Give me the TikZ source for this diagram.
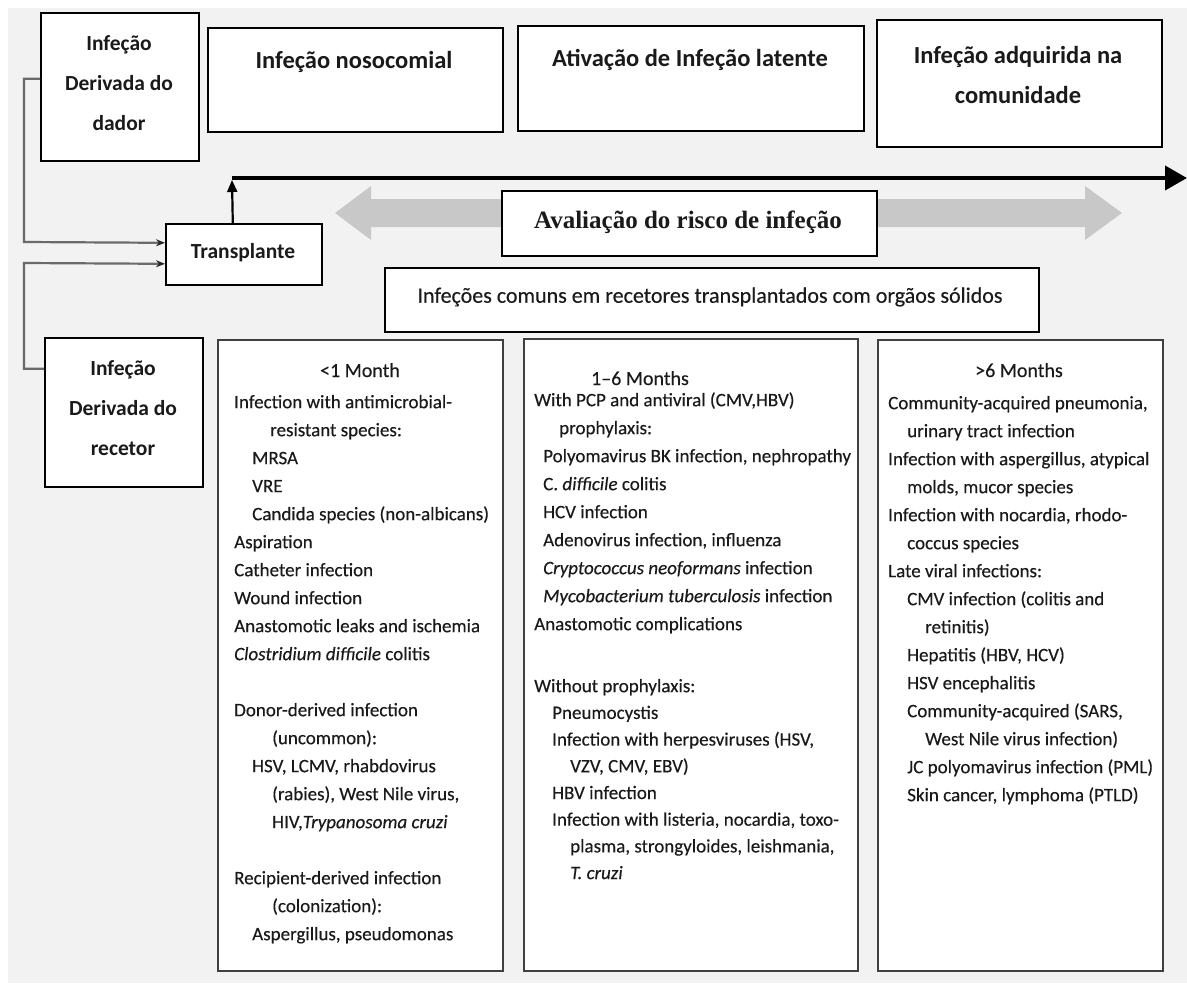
\documentclass[tikz,border=0pt]{standalone}
\usepackage{fontspec}
\setmainfont{Carlito}
\newfontfamily\serifb{Liberation Serif}
\newfontfamily\medfont{Carlito}[FakeBold=0.3]
\usetikzlibrary{arrows.meta}
\definecolor{bg}{HTML}{F2F2F2}
\definecolor{agray}{HTML}{C8C8C8}
\definecolor{lgray}{HTML}{6A6A6A}
\definecolor{txt}{HTML}{1A1A1A}
\definecolor{mborder}{HTML}{404040}
\begin{document}
\begin{tikzpicture}[x=1pt,y=-1pt,
  box/.style={draw=black, line width=1.6pt, fill=white, inner sep=0pt, anchor=north west},
  mbox/.style={draw=mborder, line width=1.5pt, fill=white, inner sep=0pt, anchor=north west},
  hdr/.style={font=\fontsize{24.5}{40}\selectfont\bfseries, text=txt, align=center, inner sep=0pt},
  side/.style={font=\fontsize{21.5}{40}\selectfont\bfseries, text=txt, align=center, inner sep=0pt},
  mhead/.style={font=\fontsize{20}{28}\selectfont\medfont, text=txt, inner sep=0pt, anchor=base},
  body/.style={font=\fontsize{19}{28}\selectfont\medfont, text=txt, align=left, inner sep=0pt, anchor=north west},
  bodyb/.style={font=\fontsize{19}{26.7}\selectfont\medfont, text=txt, align=left, inner sep=0pt, anchor=north west},
  conn/.style={draw=lgray, line width=2.2pt, -{Stealth[length=9pt,width=7pt,color=black!85]}},
]
\useasboundingbox (0,0) rectangle (1187,985);
\fill[white] (0,0) rectangle (1187,985);
\fill[bg] (8,8) rectangle (1187,983);

% top boxes
\node[box, minimum width=158pt, minimum height=148pt] (donor) at (40,12) {};
\node[side] (donorT) at (119,83) {Infeção\\Derivada do\\dador};
\node[box, minimum width=295pt, minimum height=104pt] (noso) at (207,27) {};
\node[hdr] (nosoT) at (354,62) {Infeção nosocomial};
\node[box, minimum width=346pt, minimum height=105pt] (ativ) at (517,25) {};
\node[hdr] (ativT) at (690,60) {Ativação de Infeção latente};
\node[box, minimum width=285pt, minimum height=127pt] (comu) at (876,19) {};
\node[hdr] (comuT) at (1018,75) {Infeção adquirida na\\comunidade};

% timeline
\coordinate (tl0) at (232,178);
\coordinate (tl1) at (1187,178);
\draw[line width=4pt, -{Triangle[length=22pt,width=24pt]}] (tl0) -- (tl1);

% gray double arrow
\fill[agray] (335,213) -- (371,186) -- (371,199) -- (1085,199) -- (1085,186) -- (1122,213)
  -- (1085,240) -- (1085,227) -- (371,227) -- (371,240) -- cycle;

% transplante
\node[box, minimum width=156pt, minimum height=61pt] (trans) at (165,223) {};
\node[side] (transT) at (243,253) {Transplante};
\draw[line width=2.2pt, -{Triangle[length=12pt,width=10pt]}] ([xshift=-11pt]trans.north) -- ([yshift=-2pt]tl0);

% avaliação
\node[box, minimum width=375pt, minimum height=65pt] (aval) at (501,190) {};
\node[font=\fontsize{25}{30}\selectfont\serifb\bfseries, text=txt, inner sep=0pt] (avalT) at (688,222) {Avaliação do risco de infeção};

% infeções comuns
\node[box, minimum width=654pt, minimum height=64pt] (comuns) at (384,267) {};
\node[font=\fontsize{22}{26}\selectfont\medfont, text=txt, inner sep=0pt] (comunsT) at (710,297) {Infeções comuns em recetores transplantados com orgãos sólidos};

% recipient box
\node[box, minimum width=158pt, minimum height=149pt] (recip) at (44,337) {};
\node[side] (recipT) at (123,408) {Infeção\\Derivada do\\recetor};

% connectors
\draw[conn] ([yshift=8pt]donor.west) -| (24,242) -- ([yshift=11.5pt]trans.west);
\draw[conn] ([yshift=43.5pt]recip.west) -| (24,263) -- ([yshift=-9.5pt]trans.west);

% month boxes
\node[mbox, minimum width=285pt, minimum height=631pt] (m1) at (217,339) {};
\node[mhead] (m1h) at (360,377) {<1 Month};
\node[body] (m1b) at (234,393) {\rule{0pt}{15pt}Infection with antimicrobial-\\
\hspace*{36pt}resistant species:\\
\hspace*{18pt}MRSA\\
\hspace*{18pt}VRE\\
\hspace*{18pt}Candida species (non-albicans)\\
Aspiration\\
Catheter infection\\
Wound infection\\
Anastomotic leaks and ischemia\\
\textit{Clostridium difficile} colitis\\[28pt]
Donor-derived infection\\
\hspace*{38pt}(uncommon):\\
\hspace*{18pt}HSV, LCMV, rhabdovirus\\
\hspace*{38pt}(rabies), West Nile virus,\\
\hspace*{38pt}HIV,\textit{Trypanosoma cruzi}\\[28pt]
Recipient-derived infection\\
\hspace*{38pt}(colonization):\\
\hspace*{18pt}Aspergillus, pseudomonas};

\node[mbox, minimum width=334pt, minimum height=632pt] (m2) at (523,338) {};
\node[mhead] (m2h) at (640,385) {1–6 Months};
\node[body] (m2b) at (534,391) {\rule{0pt}{15pt}With PCP and antiviral (CMV,HBV)\\
\hspace*{25pt}prophylaxis:\\
\hspace*{9pt}Polyomavirus BK infection, nephropathy\\
\hspace*{9pt}C. \textit{difficile} colitis\\
\hspace*{9pt}HCV infection\\
\hspace*{9pt}Adenovirus infection, influenza\\
\hspace*{9pt}\textit{Cryptococcus neoformans} infection\\
\hspace*{9pt}\textit{Mycobacterium tuberculosis} infection\\
Anastomotic complications};
\node[bodyb] (m2c) at (534,677) {\rule{0pt}{15pt}Without prophylaxis:\\
\hspace*{18pt}Pneumocystis\\
\hspace*{18pt}Infection with herpesviruses (HSV,\\
\hspace*{36pt}VZV, CMV, EBV)\\
\hspace*{18pt}HBV infection\\
\hspace*{18pt}Infection with listeria, nocardia, toxo-\\
\hspace*{36pt}plasma, strongyloides, leishmania,\\
\hspace*{36pt}\textit{T. cruzi}};

\node[mbox, minimum width=285pt, minimum height=631pt] (m3) at (877,339) {};
\node[mhead] (m3h) at (1019,377) {>6 Months};
\node[body] (m3b) at (888,394) {\rule{0pt}{15pt}Community-acquired pneumonia,\\
\hspace*{19pt}urinary tract infection\\
Infection with aspergillus, atypical\\
\hspace*{19pt}molds, mucor species\\
Infection with nocardia, rhodo-\\
\hspace*{19pt}coccus species\\
Late viral infections:\\
\hspace*{19pt}CMV infection (colitis and\\
\hspace*{37pt}retinitis)\\
\hspace*{19pt}Hepatitis (HBV, HCV)\\
\hspace*{19pt}HSV encephalitis\\
\hspace*{19pt}Community-acquired (SARS,\\
\hspace*{37pt}West Nile virus infection)\\
\hspace*{19pt}JC polyomavirus infection (PML)\\
\hspace*{19pt}Skin cancer, lymphoma (PTLD)};
\end{tikzpicture}
\end{document}
